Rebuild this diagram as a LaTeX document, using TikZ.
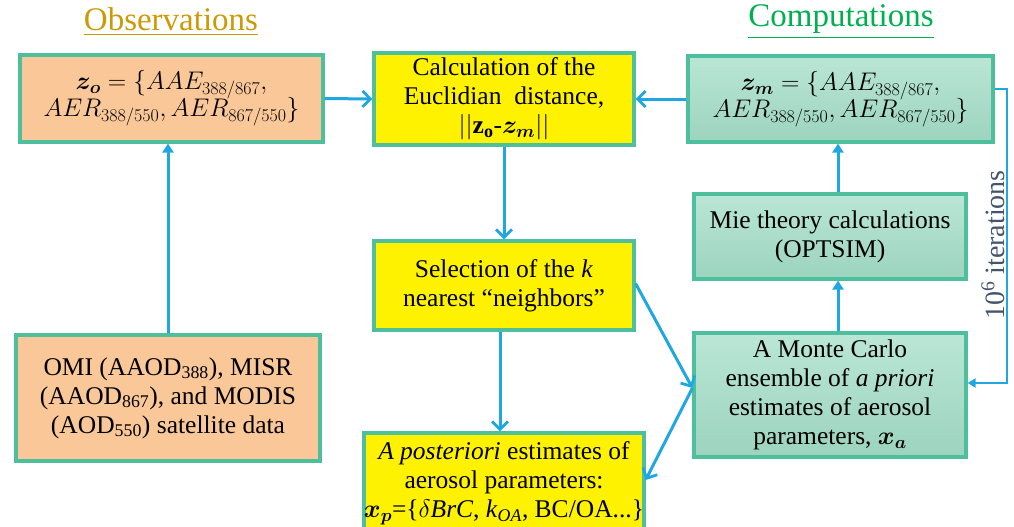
\RequirePackage{fix-cm}
\documentclass[tikz,border=0pt]{standalone}
\usepackage{fontspec}
\setmainfont{Liberation Serif}
\usepackage{amsmath,bm}
\newcommand{\sbx}[1]{_{\hbox{\fontsize{18}{18}\selectfont$#1$}}}
\usetikzlibrary{arrows.meta}
\definecolor{bord}{HTML}{4DBF9C}
\definecolor{orangefill}{HTML}{FAC898}
\definecolor{arrowblue}{HTML}{1EA7E1}
\definecolor{greentop}{HTML}{BAE6D6}
\definecolor{greenbot}{HTML}{9CD4BE}
\definecolor{gold}{HTML}{CC9A06}
\definecolor{titlegreen}{HTML}{00B050}
\definecolor{slate}{HTML}{44546A}
\begin{document}
\begin{tikzpicture}[x=1pt,y=-1pt,
  box/.style={draw=bord, line width=3.2pt, align=center, inner sep=0pt, font=\fontsize{25.5}{29}\selectfont},
  obs/.style={box, fill=orangefill},
  calcbox/.style={box, fill=yellow},
  comp/.style={box, top color=greentop, bottom color=greenbot},
  conn/.style={draw=arrowblue, line width=3pt, -{Straight Barb[length=8pt,width=16pt,line width=2.8pt]}},
  conntri/.style={draw=arrowblue, line width=3pt, -{Triangle[length=9pt,width=11pt]}},
  title/.style={font=\fontsize{33}{33}\selectfont}]
\useasboundingbox (0,0) rectangle (1014,527);
\clip (0,0) rectangle (1014,527);

% titles
\node[title, text=gold] (obst) at (171,22) {\underline{Observations}};
\node[title, text=titlegreen] (compt) at (841,22) {\underline{Computations}};

% boxes
\node[obs, minimum width=303pt, minimum height=87pt] (zo) at (171.5,98.5)
  {$\bm{z}\sbx{\bm{o}}=\{AAE\sbx{388/867},$\\[-2pt]$AER\sbx{388/550},AER\sbx{867/550}\}$};
\node[calcbox, minimum width=260pt, minimum height=92pt] (calc) at (504,99)
  {Calculation of the\\Euclidian\ \ distance,\\$||\mathbf{z}\sbx{\mathbf{o}}$-$\bm{z}\sbx{\bm{m}}||$};
\node[comp, minimum width=305pt, minimum height=86pt] (zm) at (840.5,99)
  {$\bm{z}\sbx{\bm{m}}=\{AAE\sbx{388/867},$\\[-2pt]$AER\sbx{388/550},AER\sbx{867/550}\}$};
\node[comp, minimum width=272pt, minimum height=85pt] (mie) at (830,236.5)
  {Mie theory calculations\\(OPTSIM)};
\node[comp, minimum width=272pt, minimum height=124pt] (mc) at (830,395)
  {A Monte Carlo\\ensemble of \textit{a priori}\\estimates of aerosol\\parameters, $\bm{x}\sbx{\bm{a}}$};
\node[calcbox, minimum width=260pt, minimum height=89pt] (sel) at (504,285.5)
  {Selection of the \textit{k}\\nearest “neighbors”};
\node[calcbox, minimum width=268pt, minimum height=100pt] (post) at (504,483)
  {\textit{A posteriori} estimates of\\aerosol parameters:\\$\bm{x}\sbx{\bm{p}}$=\{$\delta$\textit{BrC}, \textit{k}\textsubscript{\textit{OA}}, BC/OA...\}};
\node[obs, minimum width=304pt, minimum height=126pt] (omi) at (168,398)
  {OMI (AAOD\textsubscript{388}), MISR\\(AAOD\textsubscript{867}), and MODIS\\(AOD\textsubscript{550}) satellite data};

% label
\node[rotate=90, text=slate, font=\fontsize{28}{28}\selectfont] (iter) at (993,245) {10\textsuperscript{6} iterations};

% connectors
\coordinate (mcin) at ([yshift=7pt]mc.west);
\coordinate (loopx) at (1007,0);
\draw[conn] (zo.east) -- (calc.west);
\draw[conn] (zm.west) -- (calc.east);
\draw[conn] (calc.south) -- (sel.north);
\draw[conn] ([xshift=-4pt]sel.south) -- ([xshift=-4pt]post.north);
\draw[conn] ([yshift=2pt]sel.east) -- (mcin);
\draw[conn] (mcin) -- ([yshift=3pt]post.east);
\draw[conntri] (omi.north) -- (omi.north |- zo.south);
\draw[conntri] ([xshift=8pt]mc.north) -- ([xshift=8pt]mie.south);
\draw[conntri] ([xshift=8pt]mie.north) -- ([xshift=-2.5pt]zm.south);
\draw[draw=arrowblue, line width=2.4pt, -{Triangle[length=8pt,width=9pt]}]
  ([yshift=10pt]zm.east) -- ([yshift=10pt]zm.east -| loopx) |- ([yshift=12pt]mc.east);
\end{tikzpicture}
\end{document}
